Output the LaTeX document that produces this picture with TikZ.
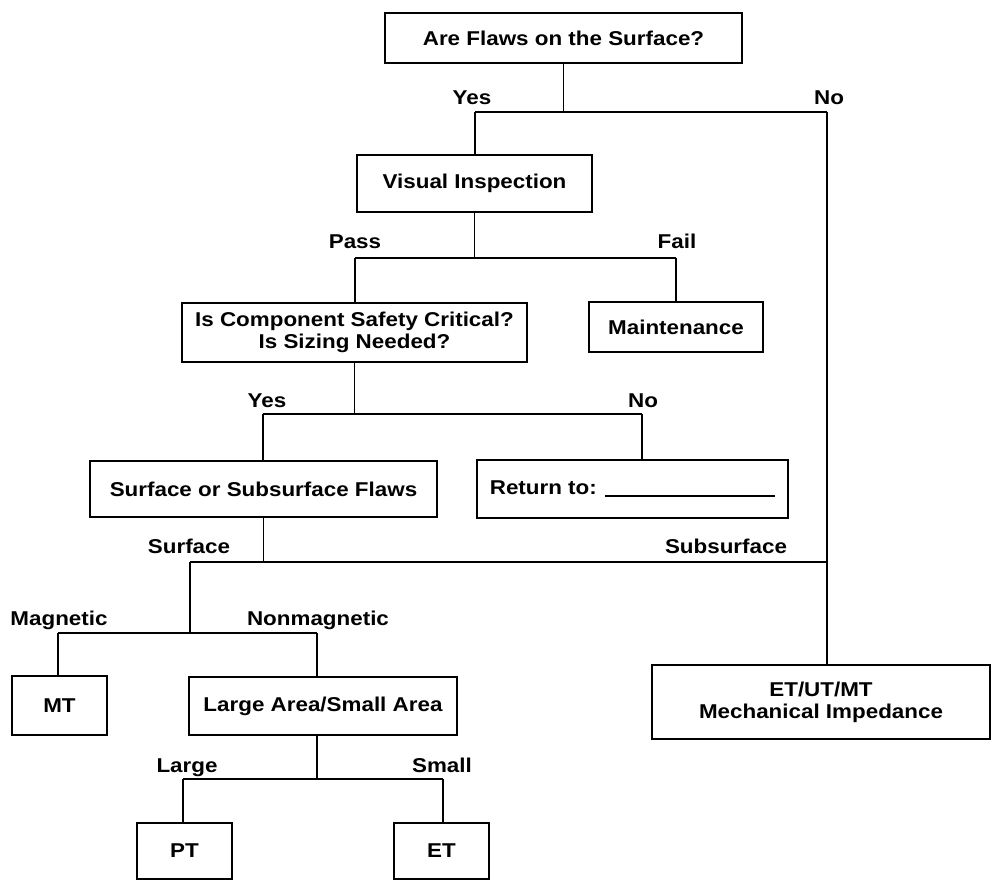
\documentclass[tikz,border=0pt]{standalone}
\usepackage{fontspec}
\newfontfamily\flowfont{Liberation Sans}[FakeStretch=1.12]
\begin{document}
\begin{tikzpicture}[x=1pt,y=-1pt,
  every node/.style={font=\flowfont\bfseries\fontsize{20}{22}\selectfont},
  box/.style={draw, line width=1.8pt, rectangle, inner sep=0pt, align=center},
  lbl/.style={anchor=base, inner sep=0pt},
  wire/.style={line width=1.6pt}]
\useasboundingbox (0,0) rectangle (993,880);

% decision and result boxes
\node[box, minimum width=357pt, minimum height=50pt] (q1) at (563.5,38) {Are Flaws on the Surface?};
\node[box, minimum width=235pt, minimum height=57pt] (vis) at (474.5,183.5) {Visual Inspection};
\node[box, minimum width=345pt, minimum height=59pt] (safe) at (354.5,332.5) {Is Component Safety Critical?\\Is Sizing Needed?};
\node[box, minimum width=174pt, minimum height=50pt] (maint) at (676,327) {Maintenance};
\node[box, minimum width=347pt, minimum height=56pt] (surf) at (263.5,489) {Surface or Subsurface Flaws};
\node[box, minimum width=311pt, minimum height=58pt] (ret) at (632.5,489) {Return to: \rule[-2pt]{170pt}{1.4pt}};
\node[box, minimum width=338pt, minimum height=74pt] (etut) at (821,702) {ET/UT/MT\\Mechanical Impedance};
\node[box, minimum width=95pt, minimum height=59pt] (mt) at (59.5,705.5) {MT};
\node[box, minimum width=268pt, minimum height=58pt] (large) at (323,706) {Large Area/Small Area};
\node[box, minimum width=95pt, minimum height=56pt] (pt) at (184.5,851) {PT};
\node[box, minimum width=95pt, minimum height=56pt] (et) at (441.5,851) {ET};

% branch points
\coordinate (yesA) at (475,112);
\coordinate (noA) at (827,112);
\coordinate (passA) at (355,258);
\coordinate (failA) at (676,258);
\coordinate (yesB) at (263,414);
\coordinate (noB) at (642,414);
\coordinate (surfC) at (190,562);
\coordinate (subC) at (827,562);
\coordinate (magD) at (58,633);
\coordinate (nonD) at (317,633);
\coordinate (splitE) at (317,779);
\coordinate (lgE) at (183,779);
\coordinate (smE) at (443,779);

% connectors
\draw[wire] (q1.south) -- (q1.south |- yesA);
\draw[wire] (yesA) -- (noA);
\draw[wire] (yesA) -- (yesA |- vis.north);
\draw[wire] (noA) -- (noA |- etut.north);

\draw[wire] (vis.south) -- (vis.south |- passA);
\draw[wire] (passA) -- (failA);
\draw[wire] (passA) -- (passA |- safe.north);
\draw[wire] (failA) -- (failA |- maint.north);

\draw[wire] (safe.south) -- (safe.south |- yesB);
\draw[wire] (yesB) -- (noB);
\draw[wire] (yesB) -- (yesB |- surf.north);
\draw[wire] (noB) -- (noB |- ret.north);

\draw[wire] (surf.south) -- (surf.south |- surfC);
\draw[wire] (surfC) -- (subC);
\draw[wire] (surfC) -- (surfC |- magD);
\draw[wire] (magD) -- (nonD);
\draw[wire] (magD) -- (magD |- mt.north);
\draw[wire] (nonD) -- (nonD |- large.north);

\draw[wire] (splitE |- large.south) -- (splitE);
\draw[wire] (lgE) -- (smE);
\draw[wire] (lgE) -- (lgE |- pt.north);
\draw[wire] (smE) -- (smE |- et.north);

% branch labels
\node[lbl] (lyes1) at (472,105) {Yes};
\node[lbl] (lno1) at (829,105) {No};
\node[lbl] (lpass) at (355,248) {Pass};
\node[lbl] (lfail) at (677,248) {Fail};
\node[lbl] (lyes2) at (267,407) {Yes};
\node[lbl] (lno2) at (643,407) {No};
\node[lbl] (lsurf) at (189,553) {Surface};
\node[lbl] (lsub) at (726,553) {Subsurface};
\node[lbl] (lmag) at (59,625) {Magnetic};
\node[lbl] (lnon) at (318,625) {Nonmagnetic};
\node[lbl] (llarge) at (187,772) {Large};
\node[lbl] (lsmall) at (442,772) {Small};
\end{tikzpicture}
\end{document}
